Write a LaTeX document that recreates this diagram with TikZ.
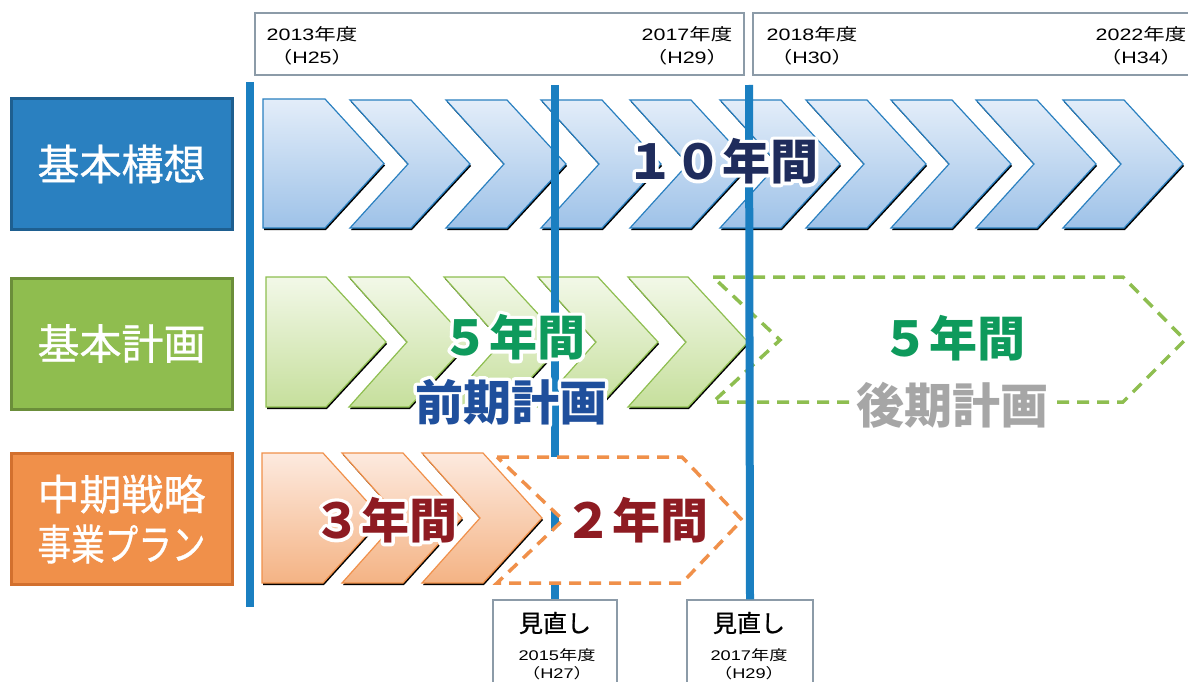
\documentclass[tikz,border=0pt]{standalone}
\usepackage{graphicx}
\usepackage{fontspec}
\setmainfont{Noto Sans CJK JP}
\newfontfamily\lat{Liberation Sans}
\newfontfamily\medjp{Noto Sans CJK JP}[FakeBold=0.8]
\usetikzlibrary{calc}
\definecolor{lineblue}{HTML}{1A7FC1}
\definecolor{hdrgray}{HTML}{8C9BA8}
\definecolor{boxblue}{HTML}{2A80C0}
\definecolor{boxblueD}{HTML}{1E5F90}
\definecolor{boxgreen}{HTML}{8FBD4F}
\definecolor{boxgreenD}{HTML}{6B8E3A}
\definecolor{boxorange}{HTML}{F0904A}
\definecolor{boxorangeD}{HTML}{D2702E}
\definecolor{aTop}{HTML}{E3EDF9}
\definecolor{aBot}{HTML}{9EC2E8}
\definecolor{aEdge}{HTML}{2A80C0}
\definecolor{bTop}{HTML}{F2F8E8}
\definecolor{bBot}{HTML}{C6DF9C}
\definecolor{bEdge}{HTML}{8EBE50}
\definecolor{cTop}{HTML}{FDEADF}
\definecolor{cBot}{HTML}{F4B384}
\definecolor{cEdge}{HTML}{F0904A}
\definecolor{navytxt}{HTML}{1F2C5C}
\definecolor{greentxt}{HTML}{0E9A5C}
\definecolor{bluetxt}{HTML}{1F4F9C}
\definecolor{graytxt}{HTML}{A6A6A6}
\definecolor{redtxt}{HTML}{8E1B22}
\newcommand\hs[1]{\scalebox{1.3}[1]{#1}}
\newcommand\halo[1]{\leavevmode\rlap{\color{white}\special{pdf:literal direct 1 Tr 7 w 1 j}#1\special{pdf:literal direct 0 Tr}}#1}
\newcommand\chevron[7]{%
  \fill[black,shift={(1,2)}] (#2,#3) -- ({#2+#5},#3) -- ({#2+#5+#6},{(#3+#4)/2}) -- ({#2+#5},#4) -- (#2,#4) -- ({#2+#7},{(#3+#4)/2}) -- cycle;
  \path[#1] (#2,#3) -- ({#2+#5},#3) -- ({#2+#5+#6},{(#3+#4)/2}) -- ({#2+#5},#4) -- (#2,#4) -- ({#2+#7},{(#3+#4)/2}) -- cycle;
}
\begin{document}
\begin{tikzpicture}[x=1pt,y=-1pt,
  hdrbox/.style={draw=hdrgray,line width=1.3pt,fill=white,inner sep=0pt},
  catbox/.style={line width=3pt,text=white,inner sep=0pt,minimum width=221pt,minimum height=131pt,font=\medjp\fontsize{42}{50}\selectfont,align=center},
  hdrtxt/.style={font=\fontsize{16.5}{23}\selectfont,align=center,inner sep=0pt},
  smalltxt/.style={font=\fontsize{14}{18}\selectfont,align=center,inner sep=0pt},
  revtxt/.style={font=\medjp\fontsize{24}{26}\selectfont,inner sep=0pt},
  vline/.style={draw=lineblue,line width=8pt},
  rowA/.style={draw=aEdge,line width=1.2pt,top color=aTop,bottom color=aBot},
  rowB/.style={draw=bEdge,line width=1.2pt,top color=bTop,bottom color=bBot},
  rowC/.style={draw=cEdge,line width=1.2pt,top color=cTop,bottom color=cBot},
  dashB/.style={draw=bEdge,line width=3.5pt,dash pattern=on 12pt off 8pt},
  dashC/.style={draw=cEdge,line width=3.5pt,dash pattern=on 12pt off 8pt,fill=white},
  bigtxt/.style={font=\fontsize{48}{50}\selectfont\bfseries,inner sep=2pt}]
\useasboundingbox (0,0) rectangle (1188,682);
% header boxes
\node[hdrbox,minimum width=489pt,minimum height=62pt] (h1) at (499.5,44) {};
\node[hdrbox,minimum width=447pt,minimum height=62pt] (h2) at (976.5,44) {};
\node[hdrtxt] (y13) at (312,45.5) {\hs{{\lat 2013}年度}\\\hs{（{\lat H25}）}};
\node[hdrtxt] (y17) at (687,45.5) {\hs{{\lat 2017}年度}\\\hs{（{\lat H29}）}};
\node[hdrtxt] (y18) at (812,45.5) {\hs{{\lat 2018}年度}\\\hs{（{\lat H30}）}};
\node[hdrtxt] (y22) at (1141,45.5) {\hs{{\lat 2022}年度}\\\hs{（{\lat H34}）}};
% category boxes
\node[catbox,fill=boxblue,draw=boxblueD] (b1) at (121.5,164) {基本構想};
\node[catbox,fill=boxgreen,draw=boxgreenD] (b2) at (121.5,343.5) {基本計画};
\node[catbox,fill=boxorange,draw=boxorangeD] (b3) at (121.5,519) {中期戦略\\\scalebox{0.8}[1]{事業プラン}};
% row 1 : 10 years
\chevron{rowA}{263}{99}{228}{62}{59}{0}
\foreach \L in {350,446,541,630,720,806,891,976,1063}{\chevron{rowA}{\L}{100}{228}{61}{59}{58}}
% row 2 : 5 years
\chevron{rowB}{266}{277}{407}{60}{60}{0}
\foreach \L in {349,444,538,628}{\chevron{rowB}{\L}{277}{407}{60}{60}{58}}
\draw[dashB] (713,277) -- (1123,277) -- (1185,340) -- (1123,402) -- (713,402) -- (780,340) -- cycle;
% row 3 : 3 years
\chevron{rowC}{262}{453}{583}{61}{59}{0}
\foreach \L in {342,422}{\chevron{rowC}{\L}{453}{583}{61}{59}{58}}
% review boxes
\node[hdrbox,minimum width=124pt,minimum height=100pt] (r1) at (555,650) {};
\node[hdrbox,minimum width=126pt,minimum height=100pt] (r2) at (750,650) {};
% vertical lines
\coordinate (t0) at (250,82);
\coordinate (u0) at (250,607);
\coordinate (t1) at (555,85);
\coordinate (t2) at (749,85);
\draw[vline] (t0) -- (u0);
\draw[vline] (t1) -- (r1.north);
\draw[vline] (t2) -- (r2.north);
\draw[dashC] (497,457) -- (682,457) -- (742,520) -- (682,583) -- (497,583) -- (563,520) -- cycle;
% review texts
\node[revtxt] (m1) at (555,623) {見直し};
\node[revtxt] (m2) at (749,623) {見直し};
\node[smalltxt] (d1) at (557,664) {\hs{{\lat 2015}年度}\\\hs{（{\lat H27}）}};
\node[smalltxt] (d2) at (749,664) {\hs{{\lat 2017}年度}\\\hs{（{\lat H29}）}};
% big labels
\node[bigtxt,text=navytxt] (t10) at (722,161) {\halo{１０年間}};
\node[bigtxt,text=greentxt] (t5a) at (513,337) {\halo{５年間}};
\node[bigtxt,text=bluetxt] (tz) at (511,402) {\halo{前期計画}};
\node[bigtxt,text=greentxt] (t5b) at (953,338) {５年間};
\node[bigtxt,text=graytxt,fill=white,inner xsep=6pt,inner ysep=0pt] (tk) at (952,405) {後期計画};
\node[bigtxt,text=redtxt] (t3) at (385,520) {\halo{３年間}};
\node[bigtxt,text=redtxt] (t2y) at (636,520) {２年間};
\end{tikzpicture}
\end{document}
